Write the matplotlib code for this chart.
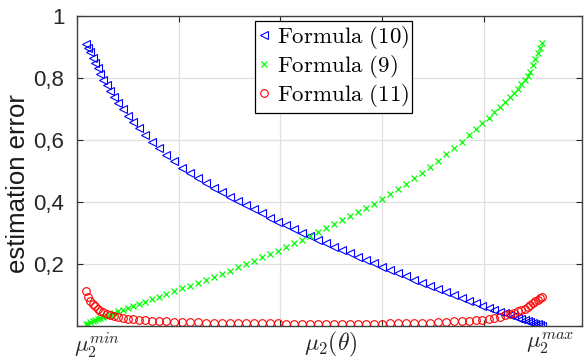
import numpy as np
import matplotlib
matplotlib.use('Agg')
import matplotlib.pyplot as plt
import matplotlib.transforms as mtransforms

# sample positions of mu_2 (grid units: ticks at 0..4)
mu2 = [0.088, 0.110, 0.132, 0.154, 0.178, 0.203, 0.231, 0.260, 0.293, 0.328,
       0.367, 0.408, 0.453, 0.502, 0.555, 0.612, 0.673, 0.738, 0.807, 0.879,
       0.953, 1.030, 1.109, 1.188, 1.266, 1.345, 1.424, 1.502, 1.581, 1.660,
       1.739, 1.817, 1.896, 1.975, 2.053, 2.132, 2.211, 2.290, 2.368, 2.447,
       2.526, 2.604, 2.683, 2.762, 2.840, 2.919, 2.998, 3.077, 3.155, 3.234,
       3.313, 3.391, 3.470, 3.549, 3.628, 3.705, 3.780, 3.852, 3.920, 3.985,
       4.046, 4.103, 4.156, 4.205, 4.251, 4.292, 4.330, 4.366, 4.398, 4.428,
       4.455, 4.481, 4.504, 4.527, 4.548, 4.570]

# Formula (10)
err_10 = [0.910, 0.897, 0.883, 0.866, 0.848, 0.832, 0.813, 0.795, 0.776, 0.757,
          0.738, 0.718, 0.699, 0.679, 0.659, 0.638, 0.616, 0.594, 0.573, 0.552,
          0.531, 0.510, 0.493, 0.477, 0.461, 0.446, 0.431, 0.417, 0.403, 0.389,
          0.376, 0.363, 0.350, 0.337, 0.325, 0.313, 0.301, 0.290, 0.278, 0.267,
          0.255, 0.244, 0.234, 0.223, 0.212, 0.202, 0.191, 0.181, 0.171, 0.160,
          0.150, 0.139, 0.129, 0.119, 0.110, 0.100, 0.091, 0.082, 0.074, 0.066,
          0.059, 0.052, 0.046, 0.041, 0.036, 0.031, 0.027, 0.023, 0.019, 0.016,
          0.013, 0.010, 0.007, 0.005, 0.002, 0.000]

# Formula (9)
err_9 = [0.005, 0.008, 0.012, 0.015, 0.018, 0.022, 0.026, 0.029, 0.033, 0.037,
         0.042, 0.047, 0.052, 0.058, 0.064, 0.071, 0.078, 0.086, 0.094, 0.103,
         0.112, 0.121, 0.130, 0.139, 0.149, 0.159, 0.168, 0.178, 0.189, 0.200,
         0.210, 0.221, 0.232, 0.243, 0.255, 0.267, 0.279, 0.291, 0.304, 0.317,
         0.329, 0.342, 0.356, 0.369, 0.382, 0.395, 0.410, 0.426, 0.442, 0.459,
         0.477, 0.495, 0.514, 0.533, 0.554, 0.575, 0.595, 0.615, 0.635, 0.654,
         0.672, 0.690, 0.706, 0.722, 0.738, 0.752, 0.766, 0.780, 0.793, 0.807,
         0.821, 0.841, 0.860, 0.881, 0.898, 0.914]

# Formula (11)
err_11 = [0.114, 0.095, 0.082, 0.071, 0.063, 0.056, 0.049, 0.044, 0.040, 0.036,
          0.032, 0.029, 0.026, 0.023, 0.021, 0.019, 0.018, 0.017, 0.016, 0.015,
          0.014, 0.013, 0.012, 0.012, 0.011, 0.011, 0.011, 0.010, 0.010, 0.010,
          0.009, 0.009, 0.009, 0.009, 0.008, 0.008, 0.008, 0.008, 0.008, 0.008,
          0.008, 0.008, 0.008, 0.008, 0.008, 0.008, 0.008, 0.009, 0.009, 0.009,
          0.010, 0.011, 0.011, 0.012, 0.013, 0.015, 0.016, 0.017, 0.019, 0.020,
          0.023, 0.027, 0.030, 0.034, 0.038, 0.042, 0.047, 0.051, 0.056, 0.061,
          0.067, 0.074, 0.080, 0.084, 0.089, 0.095]

ytick_vals = [0, 0.2, 0.4, 0.6, 0.8, 1.0]
ytick_labels = ['', '0,2', '0,4', '0,6', '0,8', '1']
legend_labels = [r'$\mathrm{Formula\ (10)}$', r'$\mathrm{Formula\ (9)}$',
                 r'$\mathrm{Formula\ (11)}$']


def main():
    plt.rcParams['mathtext.fontset'] = 'cm'
    plt.rcParams['font.family'] = ['Liberation Sans', 'DejaVu Sans']

    fig = plt.figure(figsize=(5.84, 3.59), dpi=100)
    ax = fig.add_axes([0.1318, 0.0919, 0.9966 - 0.1318, 0.9554 - 0.0919])

    ax.plot(mu2, err_10, ls='none', marker='<', ms=6, mfc='none', mec='b',
            mew=0.8, label=legend_labels[0])
    ax.plot(mu2, err_9, ls='none', marker='x', ms=4.5, mec=(0, 1, 0),
            mew=0.9, label=legend_labels[1])
    ax.plot(mu2, err_11, ls='none', marker='o', ms=5.5, mfc='none', mec='r',
            mew=0.8, label=legend_labels[2])

    ax.set_xlim(0, 4.963)
    ax.set_ylim(0, 1)
    ax.set_xticks([0, 1, 2, 3, 4])
    ax.set_xticklabels([])
    ax.set_yticks(ytick_vals)
    ax.set_yticklabels(ytick_labels)

    ax.grid(True, color='#e0e0e0', lw=0.9)
    ax.set_axisbelow(True)
    ax.tick_params(direction='in', top=True, right=True, length=4,
                   width=0.8, colors='#262626', labelsize=16, pad=9)
    for sp in ax.spines.values():
        sp.set_color('#404040')
        sp.set_linewidth(1.0)

    ax.set_ylabel('estimation error', fontsize=18.5, color='#1a1a1a')
    ax.yaxis.set_label_coords(-0.093, 0.458)

    # axis annotations below the x axis
    trans = mtransforms.blended_transform_factory(ax.transData, ax.transAxes)
    ax.text(0.197, -0.015, r'$\mu_2^{min}$', transform=trans, ha='center',
            va='top', fontsize=16.5, color='#262626')
    ax.text(2.496, -0.079, r'$\mu_2(\theta)$', transform=trans, ha='center',
            va='baseline', fontsize=17, color='#262626')
    ax.text(4.649, -0.015, r'$\mu_2^{max}$', transform=trans, ha='center',
            va='top', fontsize=16.5, color='#262626')

    leg = ax.legend(loc='upper left', bbox_to_anchor=(0.3525, 0.984),
                    borderaxespad=0, fontsize=16.5, fancybox=False,
                    framealpha=1, edgecolor='black', handlelength=0.5,
                    handletextpad=0.3, labelspacing=0.08, borderpad=0.15)
    leg.get_frame().set_linewidth(0.9)

    fig.savefig('out.png', dpi=100)
    plt.close(fig)


if __name__ == '__main__':
    main()
